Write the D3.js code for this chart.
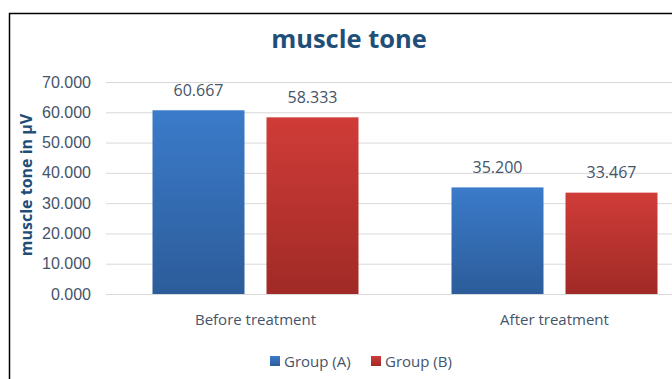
<!DOCTYPE html>
<html><head><meta charset="utf-8">
<script src="https://cdn.jsdelivr.net/npm/d3@7"></script>
<style>
html,body{margin:0;padding:0;background:#fff;}
svg{display:block;font-family:"Open Sans",Lato,sans-serif;}
</style></head>
<body>
<svg id="chart" width="672" height="379"></svg>
<script>
const categories = ["Before treatment", "After treatment"];
const seriesNames = ["Group (A)", "Group (B)"];
const groupA = [60.667, 35.200];
const groupB = [58.333, 33.467];
const yTicks = [0, 10, 20, 30, 40, 50, 60, 70];
const title = "muscle tone";
const yTitle = "muscle tone in μV";

const svg = d3.select("#chart");
const defs = svg.append("defs");
const grads = [
  {id:"gA", top:"#3b7bca", bot:"#2c5c9a"},
  {id:"gB", top:"#d03c38", bot:"#a02a26"}
];
grads.forEach(g=>{
  const lg = defs.append("linearGradient").attr("id",g.id).attr("x1",0).attr("y1",0).attr("x2",0).attr("y2",1);
  lg.append("stop").attr("offset","0%").attr("stop-color",g.top);
  lg.append("stop").attr("offset","100%").attr("stop-color",g.bot);
});

// frame (left & top border)
svg.append("path").attr("d","M9.5,379 L9.5,13.5 L672,13.5").attr("fill","none").attr("stroke","#000").attr("stroke-width",1.5);

const plotLeft = 106, plotRight = 704;
const y = d3.scaleLinear().domain([0,70]).range([294,82]);
const x0 = d3.scaleBand().domain(categories).range([plotLeft, plotRight]).paddingInner(0).paddingOuter(0);
const x1 = d3.scaleBand().domain(seriesNames).range([46.5, x0.bandwidth()-46.5]).paddingInner(22/114).paddingOuter(0);

// gridlines
const yAxis = d3.axisLeft(y).tickValues(yTicks).tickFormat(d3.format(".3f")).tickSize(-(672-plotLeft)).tickPadding(15);
const ga = svg.append("g").attr("transform",`translate(${plotLeft},0)`).call(yAxis);
ga.select(".domain").remove();
ga.selectAll(".tick line").attr("stroke","#d9d9d9").attr("stroke-width",1);
ga.selectAll(".tick text").attr("fill","#44546a").attr("font-size",16).attr("x",-15);

const data = categories.map((c,i)=>({cat:c, vals:[{s:seriesNames[0],v:groupA[i],g:"gA"},{s:seriesNames[1],v:groupB[i],g:"gB"}]}));
const grp = svg.append("g").selectAll("g").data(data).join("g").attr("transform",d=>`translate(${x0(d.cat)},0)`);
grp.selectAll("rect").data(d=>d.vals).join("rect")
  .attr("x",d=>x1(d.s)).attr("width",x1.bandwidth())
  .attr("y",d=>y(d.v)).attr("height",d=>y(0)-y(d.v))
  .attr("fill",d=>`url(#${d.g})`);
grp.selectAll("text").data(d=>d.vals).join("text")
  .attr("x",d=>x1(d.s)+x1.bandwidth()/2).attr("y",d=>y(d.v)-14.5)
  .attr("text-anchor","middle").attr("fill","#44546a").attr("font-size",16)
  .text(d=>d3.format(".3f")(d.v));

// category labels
svg.append("g").selectAll("text").data(categories).join("text")
  .attr("x",d=>x0(d)+x0.bandwidth()/2).attr("y",325)
  .attr("text-anchor","middle").attr("fill","#44546a").attr("font-size",15)
  .text(d=>d);

// title
svg.append("text").attr("x",349).attr("y",48).attr("text-anchor","middle")
  .attr("font-size",25.5).attr("font-weight","bold").attr("fill","#1f4e79").text(title);

// y title
svg.append("text").attr("transform","translate(32,185) rotate(-90)").attr("text-anchor","middle")
  .attr("font-size",16).attr("font-weight","bold").attr("fill","#1f4e79").text(yTitle);

// legend
const legX = [270, 371];
const leg = svg.append("g").selectAll("g").data(seriesNames).join("g").attr("transform",(d,i)=>`translate(${legX[i]},356)`);
leg.append("rect").attr("width",10).attr("height",10).attr("y",0).attr("fill",(d,i)=>`url(#${grads[i].id})`);
leg.append("text").attr("x",14).attr("y",10.5).attr("fill","#44546a").attr("font-size",15).text(d=>d);
</script>
</body></html>
